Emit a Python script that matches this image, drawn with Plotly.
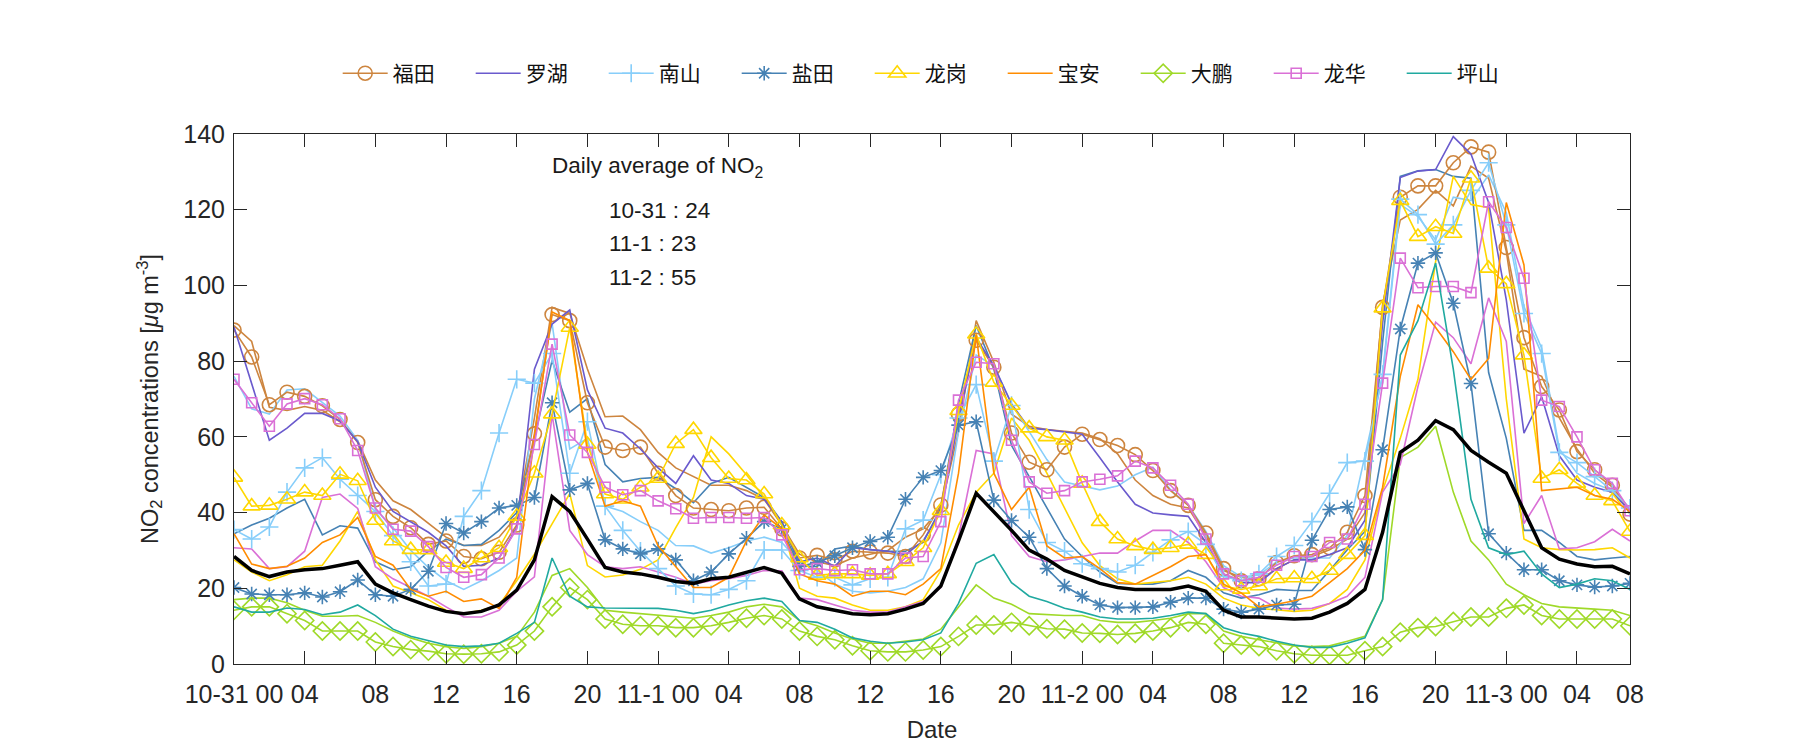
import plotly.graph_objects as go

hours = list(range(80))

tick_vals = list(range(0, 77, 4)) + [79]
tick_text = ["10-31 00", "04", "08", "12", "16", "20", "11-1 00", "04", "08", "12", "16", "20",
             "11-2 00", "04", "08", "12", "16", "20", "11-3 00", "04", "08"]

# ---- series with legend (district) ----
futian = [88.2, 81.1, 68.5, 71.8, 70.7, 68.2, 64.6, 58.5, 43.4, 39.0, 36.0, 31.6, 32.5, 28.4, 27.8, 29.5,
          36.7, 60.8, 92.3, 90.7, 69.0, 57.3, 56.4, 57.3, 50.4, 44.5, 41.2, 40.8, 40.5, 41.2, 41.4, 35.7,
          28.0, 28.7, 27.5, 29.8, 29.6, 29.3, 28.4, 34.1, 42.0, 66.0, 85.5, 78.4, 61.0, 53.3, 51.3, 57.3,
          60.7, 59.3, 57.7, 55.3, 51.1, 45.8, 41.9, 34.6, 25.2, 22.0, 22.5, 26.8, 28.6, 28.9, 30.7, 34.8,
          44.5, 94.2, 123.3, 126.3, 126.3, 132.4, 136.6, 135.2, 110.0, 86.2, 73.3, 67.1, 56.1, 51.3, 47.2, 39.6]
luohu = [89.0, 74.0, 59.1, 62.3, 66.2, 66.2, 64.2, 58.7, 46.7, 40.3, 37.6, 34.8, 31.2, 25.8, 26.1, 28.0,
         36.0, 77.9, 89.8, 93.5, 72.4, 62.3, 61.0, 56.8, 51.8, 47.7, 55.0, 48.6, 47.7, 44.5, 43.5, 37.6,
         27.0, 28.0, 25.8, 30.7, 30.2, 29.8, 28.9, 32.5, 40.3, 64.2, 86.2, 78.8, 68.7, 62.3, 61.9, 61.4,
         60.7, 54.5, 48.1, 42.2, 39.9, 39.4, 39.0, 32.1, 23.8, 21.5, 21.5, 25.2, 27.5, 27.5, 28.9, 30.7,
         38.0, 90.0, 128.5, 130.2, 130.6, 139.3, 134.7, 121.9, 96.2, 61.0, 70.6, 55.0, 48.6, 46.7, 45.4, 40.3]
nanshan = [35.5, 33.0, 36.2, 45.4, 51.8, 54.5, 48.8, 44.5, 40.3, 33.9, 27.0, 20.6, 21.1, 39.0, 45.8, 61.0,
           75.2, 74.2, 82.0, 50.4, 64.0, 41.7, 35.3, 29.8, 25.2, 20.6, 18.5, 18.3, 19.7, 22.0, 30.1, 30.1,
           24.7, 22.9, 22.9, 20.9, 22.5, 22.9, 35.7, 38.0, 50.0, 65.0, 73.8, 53.6, 68.3, 40.8, 32.1, 29.8,
           26.5, 25.2, 24.3, 26.1, 29.5, 32.8, 35.0, 31.6, 23.1, 22.0, 23.8, 28.4, 31.3, 37.6, 45.1, 53.2,
           53.6, 76.5, 122.8, 118.7, 110.9, 116.0, 125.1, 132.4, 116.0, 92.6, 82.0, 55.9, 53.2, 49.5, 45.8, 41.2]
yantian = [20.2, 18.5, 18.3, 18.3, 18.8, 17.7, 19.1, 22.2, 18.3, 17.9, 19.7, 24.5, 37.1, 34.6, 37.6, 41.2,
           41.9, 44.0, 69.0, 46.0, 47.7, 32.8, 30.4, 29.1, 30.4, 27.5, 22.0, 24.3, 29.1, 33.2, 37.6, 35.7,
           25.8, 26.8, 28.6, 30.7, 32.4, 33.5, 43.5, 49.3, 51.1, 63.1, 64.0, 43.3, 37.9, 33.5, 25.2, 20.6,
           17.9, 15.6, 14.9, 14.9, 15.1, 16.3, 17.4, 17.4, 14.5, 13.7, 14.5, 15.6, 15.8, 32.7, 40.8, 41.5,
           30.2, 56.6, 88.5, 105.9, 108.6, 95.3, 74.1, 34.4, 29.3, 24.9, 24.9, 22.0, 20.9, 20.3, 20.6, 21.3]
longgang = [49.3, 41.7, 41.9, 43.5, 45.4, 44.5, 50.1, 48.4, 37.9, 32.5, 30.2, 30.1, 26.8, 25.2, 28.0, 30.7,
            39.0, 50.4, 66.0, 88.9, 58.0, 44.9, 43.5, 46.7, 49.0, 58.2, 61.9, 54.5, 49.0, 48.6, 44.9, 36.7,
            28.0, 23.4, 23.8, 23.8, 23.4, 23.8, 27.0, 30.7, 40.5, 66.9, 87.1, 74.4, 68.3, 62.3, 60.0, 59.1,
            47.7, 37.6, 33.0, 31.2, 30.2, 30.7, 31.6, 28.9, 20.6, 19.7, 20.6, 22.5, 22.7, 22.5, 24.7, 28.9,
            33.9, 94.0, 122.4, 112.9, 115.5, 113.7, 128.3, 104.5, 100.4, 81.6, 49.0, 51.3, 47.7, 44.5, 43.1, 35.0]
baoan = [34.4, 26.4, 25.2, 25.8, 28.0, 32.1, 34.1, 38.7, 28.4, 26.1, 19.7, 17.9, 19.2, 16.5, 17.2, 14.7,
         22.9, 60.0, 93.0, 90.7, 55.9, 41.7, 43.1, 41.7, 31.2, 25.7, 20.2, 20.2, 22.9, 32.5, 39.4, 35.7,
         23.8, 22.0, 21.1, 17.9, 19.2, 19.2, 18.3, 21.1, 25.2, 50.4, 87.0, 50.4, 40.8, 46.7, 31.2, 28.0,
         28.4, 25.2, 21.5, 21.1, 23.4, 25.7, 28.4, 28.9, 21.1, 18.8, 15.1, 15.8, 16.7, 17.9, 21.5, 25.2,
         30.0, 46.7, 76.0, 94.9, 88.9, 82.5, 75.2, 80.7, 121.9, 105.4, 45.8, 46.3, 46.7, 44.5, 43.5, 40.3]
dapeng = [14.2, 15.1, 15.1, 13.3, 11.5, 8.7, 8.7, 8.7, 5.8, 4.6, 3.8, 3.4, 2.7, 2.6, 2.7, 3.2,
          5.0, 8.7, 15.1, 20.2, 17.0, 11.9, 10.5, 10.1, 10.1, 9.6, 9.6, 10.1, 11.0, 12.1, 12.8, 11.9,
          8.7, 7.3, 6.4, 4.8, 3.5, 3.2, 3.2, 3.7, 4.6, 7.3, 10.3, 10.3, 11.0, 10.1, 9.3, 9.2,
          8.2, 8.1, 7.8, 8.1, 8.7, 9.6, 11.0, 10.5, 5.5, 5.0, 4.6, 3.5, 2.7, 2.3, 2.3, 2.3,
          3.5, 4.6, 8.4, 9.6, 9.9, 11.2, 12.4, 12.4, 14.7, 15.6, 12.8, 11.9, 11.9, 11.9, 11.9, 10.1]
longhua = [75.2, 69.0, 62.8, 68.7, 70.1, 68.5, 64.8, 56.4, 41.2, 35.6, 35.1, 31.0, 25.5, 22.9, 23.6, 28.0,
           35.7, 58.0, 84.5, 60.5, 55.9, 46.7, 44.7, 45.8, 43.1, 41.0, 38.5, 38.7, 38.7, 38.5, 38.7, 34.1,
           24.9, 25.2, 24.7, 24.9, 23.8, 23.8, 28.0, 28.4, 37.6, 69.7, 79.7, 79.3, 59.1, 48.1, 45.1, 45.8,
           48.1, 48.8, 49.7, 53.6, 51.8, 47.2, 42.2, 33.0, 23.8, 22.0, 22.9, 26.1, 28.4, 28.4, 32.1, 33.0,
           42.2, 74.2, 107.2, 99.4, 99.7, 99.7, 98.1, 122.1, 115.3, 101.9, 69.7, 68.0, 60.0, 51.3, 47.7, 40.5]
pingshan = [15.1, 13.7, 13.7, 14.8, 14.4, 13.0, 13.7, 15.6, 12.8, 9.2, 7.3, 6.1, 5.0, 4.6, 4.8, 5.5,
            8.1, 11.0, 28.0, 17.9, 15.1, 14.8, 14.8, 14.8, 14.7, 14.2, 13.3, 14.2, 15.6, 16.7, 17.4, 16.5,
            11.5, 11.0, 9.2, 6.9, 6.0, 5.5, 5.8, 6.4, 8.2, 16.0, 26.6, 28.9, 21.5, 17.9, 16.5, 14.7,
            13.7, 12.4, 11.9, 11.9, 12.1, 12.8, 13.7, 13.3, 9.6, 8.2, 7.3, 6.0, 5.0, 4.4, 4.4, 5.5,
            6.9, 17.0, 81.6, 90.7, 105.9, 77.9, 43.5, 30.7, 28.9, 29.8, 23.8, 20.2, 21.1, 22.5, 22.0, 19.7]

# ---- additional station lines (no legend entry) ----
futian_b = [89.4, 85.2, 67.8, 67.0, 68.0, 67.0, 64.0, 59.0, 48.6, 43.1, 40.8, 37.1, 33.5, 31.3, 31.3, 33.5,
            39.0, 65.0, 94.2, 92.6, 77.9, 65.3, 65.5, 61.9, 55.9, 51.8, 49.5, 47.2, 47.2, 45.8, 43.5, 36.7,
            29.0, 27.0, 26.0, 28.0, 29.0, 30.0, 33.5, 35.7, 41.2, 61.4, 90.7, 79.7, 66.0, 62.8, 61.9, 61.4,
            61.0, 59.5, 55.5, 48.6, 44.5, 42.2, 41.2, 33.9, 24.7, 22.9, 22.0, 25.2, 27.5, 28.4, 30.2, 33.0,
            40.0, 95.0, 117.3, 120.1, 125.1, 121.0, 131.5, 128.3, 109.0, 77.9, 76.0, 65.0, 56.8, 50.4, 46.7, 40.8]
nanshan_b = [76.0, 67.4, 66.0, 72.4, 72.7, 69.2, 65.5, 59.1, 41.0, 36.0, 30.0, 25.5, 22.0, 19.7, 22.0, 24.7,
             28.0, 70.0, 90.0, 56.8, 59.6, 41.7, 40.3, 37.6, 35.3, 31.3, 31.2, 29.3, 30.7, 32.5, 33.5, 32.1,
             27.0, 24.7, 21.1, 19.2, 18.8, 19.2, 20.2, 22.5, 32.0, 61.4, 81.6, 78.8, 68.7, 61.4, 54.0, 48.1,
             47.0, 46.0, 47.0, 50.0, 52.0, 46.0, 42.0, 35.0, 26.0, 23.0, 23.5, 27.0, 28.0, 28.0, 28.0, 34.0,
             55.0, 76.0, 121.4, 118.2, 112.0, 123.3, 122.4, 129.2, 119.2, 94.4, 83.4, 56.8, 50.4, 47.7, 45.8, 40.8]
yantian_b = [34.4, 36.7, 38.5, 41.2, 43.5, 34.1, 36.5, 35.9, 27.0, 24.9, 25.7, 29.8, 33.0, 31.3, 31.6, 35.3,
             40.0, 59.6, 80.2, 66.5, 70.1, 52.7, 48.1, 49.0, 49.3, 46.3, 42.6, 47.7, 49.3, 46.7, 44.0, 37.6,
             26.0, 25.7, 30.4, 31.2, 30.2, 29.8, 29.8, 32.1, 41.2, 68.7, 89.4, 77.9, 57.7, 49.5, 41.2, 33.0,
             28.4, 24.3, 21.3, 21.1, 21.1, 22.0, 24.7, 22.9, 18.8, 17.4, 18.3, 19.7, 19.4, 19.4, 24.7, 30.2,
             35.0, 85.0, 128.8, 130.3, 130.6, 128.8, 128.3, 77.0, 59.6, 35.3, 35.3, 32.1, 28.4, 27.5, 28.0, 28.4]
longgang_b = [27.5, 24.3, 22.0, 23.6, 25.7, 26.1, 32.5, 40.3, 27.5, 20.6, 18.8, 17.0, 14.2, 13.3, 14.2, 15.6,
              22.0, 29.0, 37.0, 45.0, 26.0, 23.0, 23.5, 25.0, 27.5, 36.0, 44.0, 60.0, 55.5, 50.0, 44.0, 37.0,
              20.0, 17.9, 17.4, 15.6, 14.2, 14.2, 15.1, 17.0, 24.7, 36.7, 45.4, 50.4, 65.0, 59.1, 50.4, 41.2,
              32.0, 26.0, 22.5, 21.1, 21.5, 22.0, 22.9, 21.1, 17.4, 15.6, 14.7, 14.2, 13.9, 14.2, 16.0, 19.7,
              27.5, 45.8, 59.6, 75.2, 106.3, 128.8, 121.4, 120.5, 70.0, 33.0, 30.7, 30.2, 30.1, 30.2, 30.7, 28.0]
dapeng_b = [17.0, 17.4, 17.4, 16.2, 14.2, 12.6, 12.6, 12.8, 11.0, 8.7, 6.9, 5.5, 4.6, 4.1, 4.6, 5.5,
            7.3, 13.7, 23.4, 25.2, 20.2, 14.2, 13.7, 13.3, 12.8, 12.4, 12.1, 12.8, 13.7, 15.1, 15.8, 15.1,
            11.5, 10.1, 8.2, 6.6, 5.5, 5.5, 6.0, 6.6, 9.2, 15.1, 20.9, 17.4, 15.8, 13.3, 13.0, 12.8,
            12.8, 11.5, 11.0, 11.0, 11.5, 12.1, 13.3, 13.3, 8.7, 7.3, 6.4, 5.5, 4.8, 4.6, 4.8, 6.0,
            7.3, 17.0, 54.5, 57.3, 62.8, 45.4, 32.5, 27.5, 21.1, 18.3, 16.0, 15.1, 14.7, 14.5, 14.2, 12.8]
longhua_b = [30.7, 30.4, 25.2, 25.7, 29.8, 44.0, 44.9, 41.1, 25.7, 22.5, 20.2, 17.9, 15.1, 12.4, 12.4, 14.2,
             19.2, 23.0, 66.0, 35.3, 28.9, 25.7, 25.2, 25.7, 24.3, 22.9, 21.1, 22.0, 22.5, 23.4, 24.7, 24.6,
             17.4, 17.0, 15.6, 14.2, 13.7, 13.7, 15.1, 16.5, 20.2, 33.5, 56.4, 55.5, 33.9, 28.4, 27.0, 27.5,
             28.4, 29.3, 29.3, 32.5, 35.3, 35.3, 32.1, 27.0, 20.2, 17.9, 17.4, 14.8, 14.5, 14.7, 16.0, 17.9,
             22.9, 45.4, 52.7, 73.3, 90.3, 86.2, 79.3, 96.7, 85.2, 37.1, 44.5, 30.4, 30.7, 32.3, 35.6, 32.5]

# ---- city average ----
average = [28.4, 24.7, 23.1, 24.3, 24.9, 25.2, 26.1, 27.0, 21.1, 18.8, 17.0, 15.3, 13.9, 13.3, 13.9, 15.6,
           19.5, 27.5, 44.2, 40.3, 33.0, 25.5, 24.3, 23.8, 22.9, 21.8, 21.3, 22.5, 22.9, 24.3, 25.5, 24.0,
           17.2, 15.1, 14.2, 13.3, 13.0, 13.3, 14.5, 16.0, 20.6, 32.5, 45.1, 40.3, 35.3, 30.1, 27.7, 24.7,
           23.1, 21.3, 20.2, 19.7, 19.7, 19.7, 20.6, 19.2, 14.2, 12.4, 12.4, 12.1, 11.9, 12.1, 13.7, 16.0,
           19.7, 34.8, 55.9, 59.1, 64.3, 61.9, 56.4, 53.3, 50.4, 40.5, 30.7, 27.7, 26.4, 25.7, 25.8, 23.8]

daily_labels = ["10-31 : 24", "11-1 : 23", "11-2 : 55"]

C_FT, C_LH, C_NS, C_YT = "#CD853F", "#6A5ACD", "#87CEFA", "#4682B4"
C_LG, C_BA, C_DP, C_LHU, C_PS = "#FFD700", "#FF8C00", "#9FD928", "#DA70D6", "#20A9A0"

fig = go.Figure()

# extra plain lines first (drawn underneath)
for ys, col in [(futian_b, C_FT), (nanshan_b, C_NS), (yantian_b, C_YT), (longgang_b, C_LG),
                (dapeng_b, C_DP), (longhua_b, C_LHU)]:
    fig.add_trace(go.Scatter(x=hours, y=ys, mode="lines", line=dict(color=col, width=1.6),
                             showlegend=False, hoverinfo="skip"))

series = [
    ("福田", futian, C_FT, "circle-open", 14),
    ("罗湖", luohu, C_LH, None, 0),
    ("南山", nanshan, C_NS, "cross-thin-open", 13),
    ("盐田", yantian, C_YT, "asterisk-open", 12),
    ("龙岗", longgang, C_LG, "triangle-up-open", 15),
    ("宝安", baoan, C_BA, None, 0),
    ("大鹏", dapeng, C_DP, "diamond-open", 14),
    ("龙华", longhua, C_LHU, "square-open", 10),
    ("坪山", pingshan, C_PS, None, 0),
]
for name, ys, col, sym, size in series:
    if sym:
        fig.add_trace(go.Scatter(x=hours, y=ys, mode="lines+markers", name=name,
                                 line=dict(color=col, width=1.6),
                                 marker=dict(symbol=sym, size=size, color=col,
                                             line=dict(color=col, width=1.6))))
    else:
        fig.add_trace(go.Scatter(x=hours, y=ys, mode="lines", name=name,
                                 line=dict(color=col, width=1.6)))

fig.add_trace(go.Scatter(x=hours, y=average, mode="lines", line=dict(color="black", width=3.5),
                         showlegend=False, name="平均"))

fig.add_annotation(x=17.9, y=131.2, xref="x", yref="y", text="Daily average of NO<sub>2</sub>",
                   showarrow=False, xanchor="left", yanchor="middle",
                   font=dict(size=22.5, color="#1a1a1a"))
for i, lab in enumerate(daily_labels):
    fig.add_annotation(x=21.1, y=119.9 - i * 8.9, xref="x", yref="y", text=lab, showarrow=False,
                       xanchor="left", yanchor="middle", font=dict(size=22.5, color="#1a1a1a"))

axis_common = dict(showline=True, linecolor="#262626", linewidth=1, mirror="ticks",
                   ticks="inside", ticklen=13, tickcolor="#262626", tickwidth=1,
                   showgrid=False, zeroline=False, tickfont=dict(size=25, color="#262626"))

fig.update_xaxes(range=[0, 79], tickmode="array", tickvals=tick_vals, ticktext=tick_text,
                 ticklabelstandoff=8,
                 title=dict(text="Date", font=dict(size=24, color="#262626"), standoff=14),
                 **axis_common)
fig.update_yaxes(range=[0, 140], tickmode="array", tickvals=list(range(0, 141, 20)),
                 ticklabelstandoff=3,
                 title=dict(text="NO<sub>2</sub> concentrations [<i>μ</i>g m<sup>-3</sup>]",
                            font=dict(size=23.5, color="#262626"), standoff=18),
                 **axis_common)

fig.update_layout(
    width=1800, height=750,
    margin=dict(l=226, r=178, t=126, b=94),
    paper_bgcolor="white", plot_bgcolor="white",
    font=dict(family="Liberation Sans, Noto Sans CJK SC, sans-serif", color="#262626"),
    legend=dict(orientation="h", x=0.503, xanchor="center", y=1.114, yanchor="middle",
                font=dict(size=21, family="Noto Sans CJK SC, sans-serif", color="#111111"),
                itemwidth=45, entrywidth=73, bgcolor="rgba(0,0,0,0)"),
)

fig.write_html("out.html")
